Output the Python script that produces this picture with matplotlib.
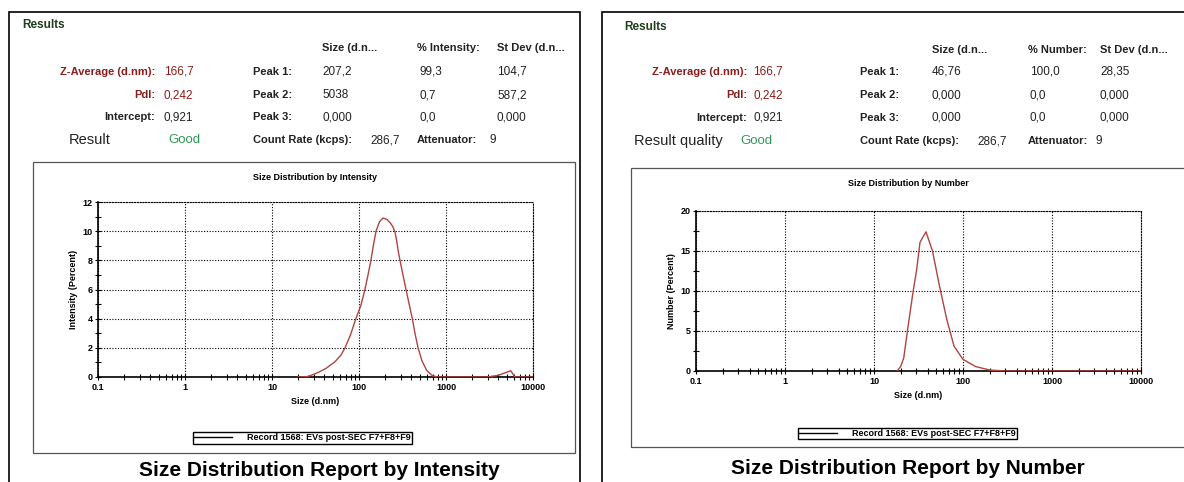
#!/usr/bin/env python3
"""Zetasizer size distribution report: intensity and number views side by side."""

import matplotlib

matplotlib.use("Agg")
import matplotlib.pyplot as plt  # noqa: I001
from matplotlib.lines import Line2D
from matplotlib.patches import Rectangle
from matplotlib.ticker import FixedLocator, FuncFormatter, LogLocator, MultipleLocator, NullFormatter

plt.rcParams["font.family"] = ["Liberation Sans", "DejaVu Sans"]

W, H = 1184, 482

# size distribution by intensity (d.nm, percent)
INT_SIZE = [20, 25, 29, 35, 42, 53, 62, 69, 80, 92, 105, 117, 127, 137, 146, 157, 172,
            189, 210, 230, 245, 259, 270, 283, 296, 320, 347, 377, 410, 440, 477, 530, 600,
            700, 800, 3000, 4000, 5000, 5550, 6200, 10000]
INT_PCT = [0.0, 0.02, 0.14, 0.35, 0.6, 1.05, 1.5, 2.0, 2.9, 4.0, 4.9, 6.0, 7.0, 8.0, 9.0,
           10.0, 10.65, 10.9, 10.8, 10.55, 10.3, 9.95, 9.4, 8.6, 8.0, 7.0, 6.0, 5.0, 4.0,
           3.0, 2.0, 1.1, 0.45, 0.08, 0.0, 0.0, 0.12, 0.33, 0.43, 0.0, 0.0]

# size distribution by number (d.nm, percent)
NUM_SIZE = [18.3, 20, 21.6, 23.7, 27.3, 30, 32.9, 38.4, 45.4, 54.7, 65.9, 79.3, 100, 139,
            200, 300, 10000]
NUM_PCT = [0.0, 0.6, 1.65, 4.95, 9.7, 12.5, 16.1, 17.4, 15.0, 10.5, 6.4, 3.1, 1.45, 0.55,
           0.12, 0.0, 0.0]

SUMMARY_LABELS = ["Z-Average (d.nm):", "PdI:", "Intercept:"]
SUMMARY_VALUES = ["166,7", "0,242", "0,921"]
PEAK_LABELS = ["Peak 1:", "Peak 2:", "Peak 3:"]
INT_PEAK_SIZE = ["207,2", "5038", "0,000"]
INT_PEAK_PCT = ["99,3", "0,7", "0,0"]
INT_PEAK_SD = ["104,7", "587,2", "0,000"]
NUM_PEAK_SIZE = ["46,76", "0,000", "0,000"]
NUM_PEAK_PCT = ["100,0", "0,0", "0,0"]
NUM_PEAK_SD = ["28,35", "0,000", "0,000"]
COUNT_RATE = "286,7"
ATTENUATOR = "9"
LEGEND_LABEL = "Record 1568: EVs post-SEC F7+F8+F9"
X_DECADES = [0.1, 1, 10, 100, 1000, 10000]

CURVE = "#b0443f"
DARK_RED = "#8b1c1c"
GREEN = "#2e9a55"
HEAD_GREEN = "#1f3d1f"
TXT = "#222222"


def put(fig, x, y, s, **kw):
    kw.setdefault("va", "center")
    kw.setdefault("color", TXT)
    fig.text(x / W, 1 - y / H, s, **kw)


def box(fig, x0, y0, x1, y1, **kw):
    fig.add_artist(Rectangle((x0 / W, 1 - y1 / H), (x1 - x0) / W, (y1 - y0) / H,
                             transform=fig.transFigure, fill=False, **kw))


def draw_results(fig, pos, pct_head, sizes, pcts, sds, result_label):
    put(fig, *pos["results"], "Results", fontsize=8.5, fontweight="bold", color=HEAD_GREEN)
    hy = pos["head_y"]
    put(fig, pos["size"], hy, "Size (d.n...", fontsize=8, fontweight="bold")
    put(fig, pos["pct_head"], hy, pct_head, fontsize=8, fontweight="bold")
    put(fig, pos["sd"], hy, "St Dev (d.n...", fontsize=8, fontweight="bold")
    for i, y in enumerate(pos["rows"]):
        lab_col = DARK_RED if i < 2 else TXT
        put(fig, pos["lab_end"], y, SUMMARY_LABELS[i], ha="right", fontsize=8,
            fontweight="bold", color=lab_col)
        put(fig, pos["val"], y, SUMMARY_VALUES[i], fontsize=8.5,
            color=DARK_RED if i < 2 else TXT)
        put(fig, pos["peak"], y, PEAK_LABELS[i], fontsize=8, fontweight="bold")
        put(fig, pos["size"], y, sizes[i], fontsize=8.5)
        put(fig, pos["pct"], y, pcts[i], fontsize=8.5)
        put(fig, pos["sd"], y, sds[i], fontsize=8.5)
    ry = pos["res_y"]
    put(fig, pos["result"], ry, result_label, fontsize=10.5)
    put(fig, pos["good"], ry, "Good", fontsize=9.5, color=GREEN)
    put(fig, pos["peak"], ry, "Count Rate (kcps):", fontsize=8, fontweight="bold")
    put(fig, pos["rate"], ry, COUNT_RATE, fontsize=8.5)
    put(fig, pos["pct_head"], ry, "Attenuator:", fontsize=8, fontweight="bold")
    put(fig, pos["att"], ry, ATTENUATOR, fontsize=8.5)


def draw_chart(fig, rect, sizes, pct, ymax, ystep, ylabel, title, title_pos, legend_pos):
    x0, y0, x1, y1 = rect
    ax = fig.add_axes([x0 / W, 1 - y1 / H, (x1 - x0) / W, (y1 - y0) / H])
    ax.plot(sizes, pct, color=CURVE, lw=1.0, zorder=3)
    ax.set_xscale("log")
    ax.set_xlim(0.1, 10000)
    ax.set_ylim(0, ymax)
    ax.xaxis.set_major_locator(FixedLocator(X_DECADES))
    ax.xaxis.set_major_formatter(FuncFormatter(lambda v, _: f"{v:g}"))
    ax.xaxis.set_minor_locator(LogLocator(base=10, subs=range(2, 10)))
    ax.xaxis.set_minor_formatter(NullFormatter())
    ax.yaxis.set_major_locator(MultipleLocator(ystep))
    ax.yaxis.set_minor_locator(MultipleLocator(ystep / 2))
    ax.tick_params(which="both", direction="inout", labelsize=6.5, colors="black", pad=2)
    ax.tick_params(which="major", length=4, width=0.8)
    ax.tick_params(which="minor", length=5, width=0.8)
    for lab in ax.get_xticklabels() + ax.get_yticklabels():
        lab.set_fontweight("bold")
    ax.grid(True, which="major", color="black", linestyle=(0, (1, 1.5)), linewidth=0.8)
    ax.set_axisbelow(True)
    for side in ("left", "bottom"):
        ax.spines[side].set_linewidth(1.2)
    for side in ("top", "right"):
        ax.spines[side].set_linestyle((0, (1, 1.5)))
        ax.spines[side].set_linewidth(0.8)
    ax.set_xlabel("Size (d.nm)", fontsize=6.5, fontweight="bold", labelpad=4)
    ax.set_ylabel(ylabel, fontsize=6.5, fontweight="bold", labelpad=3)
    put(fig, *title_pos, title, fontsize=6.5, fontweight="bold", ha="center", color="black")
    leg = ax.legend([Line2D([], [], color="black", lw=1)], [LEGEND_LABEL], loc="center",
                    bbox_to_anchor=(legend_pos[0] / W, 1 - legend_pos[1] / H),
                    bbox_transform=fig.transFigure,
                    prop={"size": 6.5, "weight": "bold"}, frameon=True,
                    fancybox=False, edgecolor="black", framealpha=1, borderpad=0.15,
                    handlelength=4.2, handletextpad=1.6, borderaxespad=0)
    leg.get_frame().set_linewidth(1.0)
    return ax


def main():
    fig = plt.figure(figsize=(W / 100, H / 100), dpi=100)

    # outer panels and inner chart frames
    box(fig, 9, 12, 580, 500, ec="black", lw=1.2)
    box(fig, 602, 12, 1200, 500, ec="black", lw=1.2)
    box(fig, 33, 162, 575, 453, ec="#555555", lw=0.9)
    box(fig, 631, 168, 1200, 447, ec="#555555", lw=0.9)

    left = {"results": (22, 25), "head_y": 48, "rows": [72, 95, 117], "res_y": 140,
            "lab_end": 155, "val": 164, "peak": 253, "size": 322, "pct_head": 417,
            "pct": 419, "sd": 497, "result": 69, "good": 168, "rate": 370, "att": 490}
    right = {"results": (624, 27), "head_y": 50, "rows": [72, 95, 118], "res_y": 141,
             "lab_end": 747, "val": 753, "peak": 860, "size": 932, "pct_head": 1028,
             "pct": 1030, "sd": 1100, "result": 634, "good": 740, "rate": 977, "att": 1095}
    draw_results(fig, left, "% Intensity:", INT_PEAK_SIZE, INT_PEAK_PCT, INT_PEAK_SD, "Result")
    draw_results(fig, right, "% Number:", NUM_PEAK_SIZE, NUM_PEAK_PCT, NUM_PEAK_SD,
                 "Result quality")

    draw_chart(fig, (98, 202, 533, 377), INT_SIZE, INT_PCT, 12, 2, "Intensity (Percent)",
               "Size Distribution by Intensity", (315, 177), (302.5, 438))
    draw_chart(fig, (696, 211, 1141, 371), NUM_SIZE, NUM_PCT, 20, 5, "Number (Percent)",
               "Size Distribution by Number", (908, 184), (907.5, 433.5))

    put(fig, 319, 470, "Size Distribution Report by Intensity", fontsize=15,
        fontweight="bold", ha="center", color="black")
    put(fig, 908, 469, "Size Distribution Report by Number", fontsize=15,
        fontweight="bold", ha="center", color="black")

    fig.savefig("out.png", dpi=100)
    plt.close(fig)


if __name__ == "__main__":
    main()
